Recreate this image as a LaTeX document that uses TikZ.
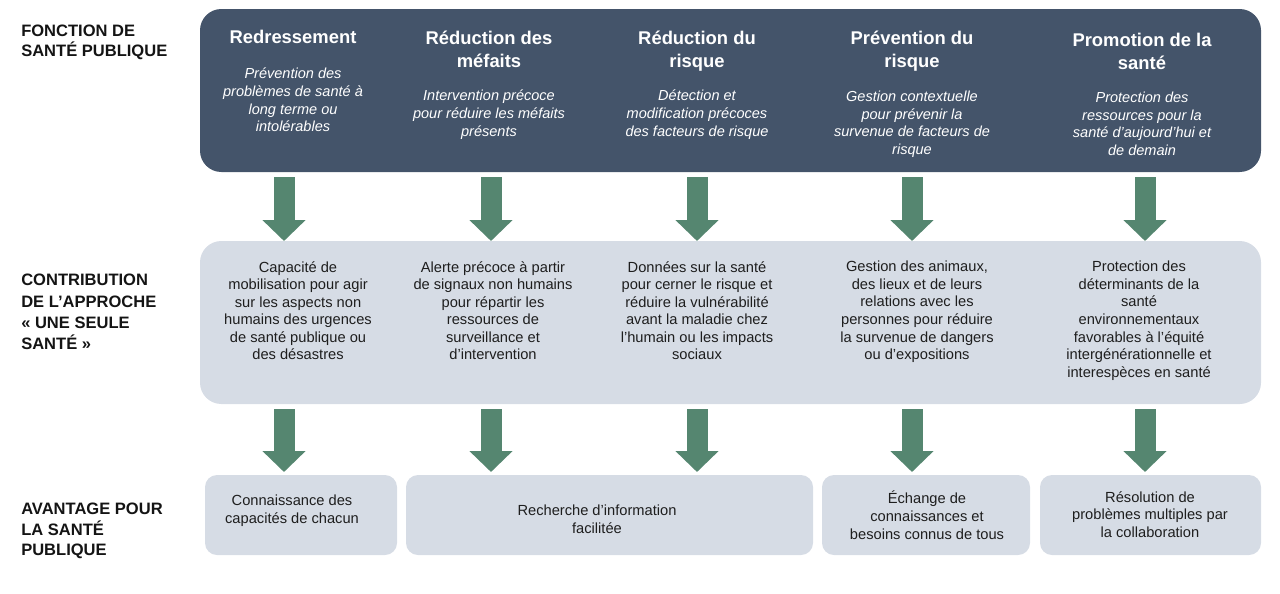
\documentclass[tikz,border=0pt]{standalone}
\usepackage{fontspec}
\setmainfont{Liberation Sans}
\usetikzlibrary{arrows.meta,fit,calc}
\definecolor{darkslate}{RGB}{68,84,106}
\definecolor{lightslate}{RGB}{214,220,229}
\definecolor{arrowgreen}{RGB}{85,134,112}
\definecolor{labelink}{RGB}{20,20,20}
\definecolor{bodyink}{RGB}{30,30,30}
\begin{document}
\begin{tikzpicture}[x=0.75pt,y=-0.75pt,
  panel/.style={inner sep=0pt, outer sep=0pt, rounded corners=16pt},
  darkpanel/.style={panel, fill=darkslate},
  lightpanel/.style={panel, fill=lightslate},
  smallpanel/.style={inner sep=0pt, outer sep=0pt, rounded corners=9pt, fill=lightslate},
  rowlabel/.style={anchor=north west, align=left, inner sep=0pt, text=labelink,
    font=\fontsize{12.4}{16}\selectfont\bfseries},
  coltitle/.style={anchor=north, align=center, inner sep=0pt, text=white,
    font=\fontsize{13.8}{17.25}\selectfont\bfseries},
  colsub/.style={anchor=north, align=center, inner sep=0pt, text=white,
    font=\fontsize{10.9}{13.15}\selectfont\itshape},
  bodytext/.style={anchor=north, align=center, inner sep=0pt, text=bodyink,
    font=\fontsize{11}{13.15}\selectfont},
  bigarrow/.style={draw=arrowgreen, line width=15.75pt,
    -{Triangle[width=31.5pt,length=15.75pt]}}
]
\useasboundingbox (0,0) rectangle (1280,593);

% panel corners
\coordinate (tA) at (200,9);   \coordinate (tB) at (1261,172);
\coordinate (mA) at (200,241); \coordinate (mB) at (1261,404);
\coordinate (b1A) at (205,475); \coordinate (b1B) at (397,555);
\coordinate (b2A) at (406,475); \coordinate (b2B) at (813,555);
\coordinate (b3A) at (822,475); \coordinate (b3B) at (1030,555);
\coordinate (b4A) at (1040,475); \coordinate (b4B) at (1261,555);

\node[darkpanel, fit=(tA)(tB)] (top) {};
\node[lightpanel, fit=(mA)(mB)] (mid) {};
\node[smallpanel, fit=(b1A)(b1B)] (b1) {};
\node[smallpanel, fit=(b2A)(b2B)] (b2) {};
\node[smallpanel, fit=(b3A)(b3B)] (b3) {};
\node[smallpanel, fit=(b4A)(b4B)] (b4) {};

% arrow columns
\coordinate (c1) at (284,0);
\coordinate (c2) at (491,0);
\coordinate (c3) at (697,0);
\coordinate (c4) at (912,0);
\coordinate (c5) at (1145,0);

\foreach \c in {c1,c2,c3,c4,c5}
  \draw[bigarrow] ($(top.south -| \c)+(0,5)$) -- (mid.north -| \c);

\draw[bigarrow] ($(mid.south -| c1)+(0,5)$) -- ($(b1.north -| c1)+(0,-3)$);
\draw[bigarrow] ($(mid.south -| c2)+(0,5)$) -- ($(b2.north -| c2)+(0,-3)$);
\draw[bigarrow] ($(mid.south -| c3)+(0,5)$) -- ($(b2.north -| c3)+(0,-3)$);
\draw[bigarrow] ($(mid.south -| c4)+(0,5)$) -- ($(b3.north -| c4)+(0,-3)$);
\draw[bigarrow] ($(mid.south -| c5)+(0,5)$) -- ($(b4.north -| c5)+(0,-3)$);

% row labels
\node[rowlabel, font=\fontsize{12.4}{14.5}\selectfont\bfseries] (L1) at (21,25) {FONCTION DE\\SANTÉ PUBLIQUE};
\node[rowlabel] (L2) at (21,274) {CONTRIBUTION\\DE L’APPROCHE\\« UNE SEULE\\SANTÉ »};
\node[rowlabel, font=\fontsize{12.4}{15.4}\selectfont\bfseries] (L3) at (21,503) {AVANTAGE POUR\\LA SANTÉ\\PUBLIQUE};

% top titles and descriptions
\node[coltitle] (t1) at (293,30) {Redressement};
\node[colsub] (s1) at (293,68) {Prévention des\\problèmes de santé à\\long terme ou\\intolérables};
\node[coltitle] (t2) at (489,31) {Réduction des\\méfaits};
\node[colsub] (s2) at (489,90) {Intervention précoce\\pour réduire les méfaits\\présents};
\node[coltitle] (t3) at (697,31) {Réduction du\\risque};
\node[colsub] (s3) at (697,90) {Détection et\\modification précoces\\des facteurs de risque};
\node[coltitle] (t4) at (912,31) {Prévention du\\risque};
\node[colsub] (s4) at (912,91) {Gestion contextuelle\\pour prévenir la\\survenue de facteurs de\\risque};
\node[coltitle] (t5) at (1142,33) {Promotion de la\\santé};
\node[colsub] (s5) at (1142,92) {Protection des\\ressources pour la\\santé d’aujourd’hui et\\de demain};

% middle texts
\node[bodytext] (m1) at (298,261) {Capacité de\\mobilisation pour agir\\sur les aspects non\\humains des urgences\\de santé publique ou\\des désastres};
\node[bodytext] (m2) at (493,261) {Alerte précoce à partir\\de signaux non humains\\pour répartir les\\ressources de\\surveillance et\\d’intervention};
\node[bodytext] (m3) at (697,261) {Données sur la santé\\pour cerner le risque et\\réduire la vulnérabilité\\avant la maladie chez\\l’humain ou les impacts\\sociaux};
\node[bodytext] (m4) at (917,261) {Gestion des animaux,\\des lieux et de leurs\\relations avec les\\personnes pour réduire\\la survenue de dangers\\ou d’expositions};
\node[bodytext] (m5) at (1139,261) {Protection des\\déterminants de la\\santé\\environnementaux\\favorables à l’équité\\intergénérationnelle et\\interespèces en santé};

% bottom texts
\node[bodytext] (x1) at (292,495) {Connaissance des\\capacités de chacun};
\node[bodytext] (x2) at (597,505) {Recherche d’information\\facilitée};
\node[bodytext] (x3) at (927,491) {Échange de\\connaissances et\\besoins connus de tous};
\node[bodytext] (x4) at (1150,491) {Résolution de\\problèmes multiples par\\la collaboration};
\end{tikzpicture}
\end{document}
